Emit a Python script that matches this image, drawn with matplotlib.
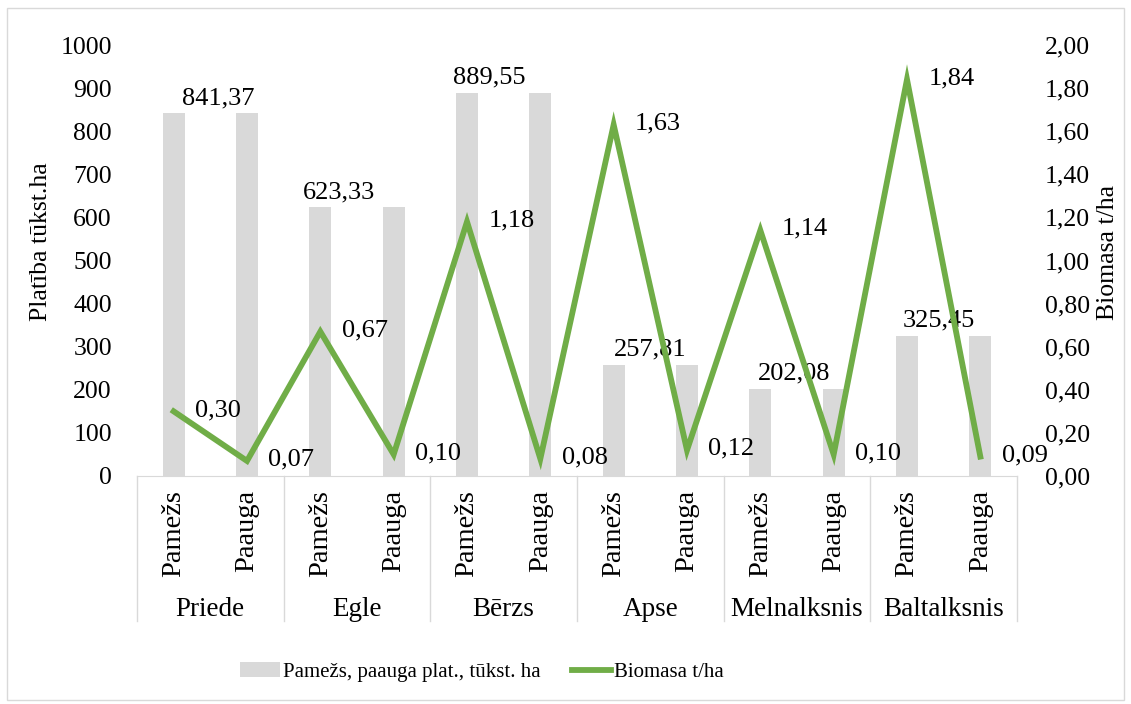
import matplotlib.pyplot as plt
from matplotlib.patches import Patch, Rectangle
from matplotlib.lines import Line2D
from matplotlib.ticker import FuncFormatter

plt.rcParams['font.family'] = ['Liberation Serif', 'DejaVu Serif']

# data
groups = ['Priede', 'Egle', 'Bērzs', 'Apse', 'Melnalksnis', 'Baltalksnis']
subcats = ['Pamežs', 'Paauga']
area = [841.37, 841.37, 623.33, 623.33, 889.55, 889.55,
        257.81, 257.81, 202.08, 202.08, 325.45, 325.45]
biomass = [0.30, 0.07, 0.67, 0.10, 1.18, 0.08,
           1.63, 0.12, 1.14, 0.10, 1.84, 0.09]

bar_color = '#d9d9d9'
line_color = '#70ad47'
fs = 18.5

W, H = 1131, 704
fig = plt.figure(figsize=(W / 100, H / 100), dpi=100)
fig.patch.set_facecolor('white')

x0, x1, ytop, ybot = 137, 1017, 45, 476
ax = fig.add_axes([x0 / W, 1 - ybot / H, (x1 - x0) / W, (ybot - ytop) / H])
ax2 = ax.twinx()

xs = list(range(len(area)))
ax.bar(xs, area, width=0.3, color=bar_color, zorder=1)
ax.set_xlim(-0.5, len(area) - 0.5)
ax.set_ylim(0, 1000)
ax.set_yticks(range(0, 1001, 100))
ax.set_xticks([])

ax2.plot(xs, biomass, color=line_color, lw=4.2, solid_joinstyle='miter', zorder=3)
ax2.set_ylim(0, 2)
ax2.set_yticks([i * 0.2 for i in range(11)])
ax2.yaxis.set_major_formatter(FuncFormatter(lambda v, p: f'{v:.2f}'.replace('.', ',')))

for a in (ax, ax2):
    for s in a.spines.values():
        s.set_visible(False)
    a.tick_params(length=0, labelsize=fs)
ax.spines['bottom'].set_visible(True)
ax.spines['bottom'].set_color(bar_color)
ax.tick_params(axis='y', pad=18)
ax2.tick_params(axis='y', pad=20)

h_ax = ybot - ytop
w_ax = x1 - x0
ax.set_ylabel('Platība tūkst.ha', fontsize=fs)
ax.yaxis.set_label_coords((52 - x0) / w_ax, (ybot - 242) / h_ax)
ax2.set_ylabel('Biomasa t/ha', fontsize=fs)
ax2.yaxis.set_label_coords((1097 - x0) / w_ax, (ybot - 252) / h_ax)

# bar value labels (one per species, shifted like in the original)
label_shift = [0.61, 0.26, 0.30, 0.50, 0.46, 0.44]
for g in range(len(groups)):
    i = g * 2
    ax.annotate(f'{area[i]:.2f}'.replace('.', ','), (i + label_shift[g], area[i]),
                xytext=(0, 11), textcoords='offset points',
                ha='center', va='center', fontsize=19)

# line value labels
for i, v in enumerate(biomass):
    ax2.annotate(f'{v:.2f}'.replace('.', ','), (i, v), xytext=(32, 1),
                 textcoords='offset points', ha='center', va='center', fontsize=19)

# two-level category axis
tr = ax.get_xaxis_transform()
for i in xs:
    ax.text(i, -(490 - ybot) / h_ax, subcats[i % 2], rotation=90, ha='center',
            va='top', fontsize=20.5, transform=tr)
for g, name in enumerate(groups):
    ax.text(g * 2 + 0.5, -(610 - ybot) / h_ax, name, ha='center', va='center',
            fontsize=19.5, transform=tr)
for g in range(len(groups) + 1):
    ax.plot([g * 2 - 0.5] * 2, [0, -(621 - ybot) / h_ax], color=bar_color, lw=1,
            transform=tr, clip_on=False)

handles = [Patch(facecolor=bar_color, edgecolor='none'),
           Line2D([], [], color=line_color, lw=4.2)]
fig.legend(handles, ['Pamežs, paauga plat., tūkst. ha', 'Biomasa t/ha'],
           loc='center', bbox_to_anchor=(482 / W, 1 - 672 / H), ncol=2,
           frameon=False, fontsize=15, handlelength=1.9, handletextpad=0.15,
           columnspacing=1.5)

fig.patches.append(Rectangle((7 / W, 4 / H), 1117 / W, 692 / H, fill=False,
                             edgecolor=bar_color, lw=1, transform=fig.transFigure))

fig.savefig('out.png', dpi=100)
